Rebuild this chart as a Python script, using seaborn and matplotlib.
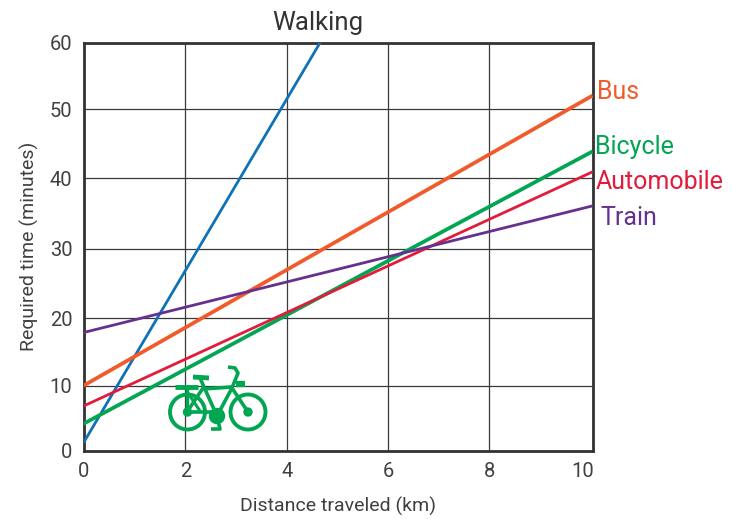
import matplotlib
matplotlib.use("Agg")
import matplotlib.pyplot as plt
import seaborn as sns
import pandas as pd
from matplotlib.patches import Circle
from matplotlib.transforms import Affine2D, ScaledTranslation

# values: required time at start and end of each line
modes = ["Walking", "Bus", "Bicycle", "Automobile", "Train"]
dist_walking = [0, 4.65]
time_walking = [1.2, 60]
dist_others = [0, 10]
time_bus = [9.6, 52.2]
time_bicycle = [4.0, 44]
time_automobile = [6.6, 41]
time_train = [17.4, 36]

# the printed grid is slightly uneven, so lines sit where the picture has them
xticks = [0, 2, 4, 5.99, 7.97, 10]
xlabels = ["0", "2", "4", "6", "8", "10"]
yticks = [0, 9.55, 19.5, 29.7, 40.05, 50.2, 60]
ylabels = ["0", "10", "20", "30", "40", "50", "60"]

colores = {"Walking": "#0F71B8", "Bus": "#F15A2B", "Bicycle": "#00A651",
           "Automobile": "#E31B3B", "Train": "#66308F"}
grosor = {"Walking": 2.0, "Bus": 2.7, "Bicycle": 2.7, "Automobile": 2.0, "Train": 2.0}

filas = []
for m, xs, ys in [("Walking", dist_walking, time_walking),
                  ("Bus", dist_others, time_bus),
                  ("Bicycle", dist_others, time_bicycle),
                  ("Automobile", dist_others, time_automobile),
                  ("Train", dist_others, time_train)]:
    for x, y in zip(xs, ys):
        filas.append({"mode": m, "dist": x, "time": y})
df = pd.DataFrame(filas)

sns.set_style("white")
plt.rcParams["font.family"] = ["Roboto", "DejaVu Sans"]

W, H = 732, 519
fig = plt.figure(figsize=(W / 100, H / 100), dpi=100)
ax = fig.add_axes([83.5 / W, 1 - 451 / H, 509 / W, 408.5 / H])

for m in modes:
    sns.lineplot(data=df[df["mode"] == m], x="dist", y="time", color=colores[m],
                 linewidth=grosor[m], ax=ax, legend=False, zorder=3,
                 solid_capstyle="butt")

ax.set_xlim(0, 10)
ax.set_ylim(0, 60)
ax.set_xticks(xticks, xlabels)
ax.set_yticks(yticks, ylabels)
ax.grid(True, color="#3a3a3a", linewidth=0.9)
ax.set_axisbelow(True)
ax.tick_params(length=0, labelsize=14.5, labelcolor="#404040")
ax.tick_params(axis="y", pad=8)
ax.tick_params(axis="x", pad=8)

# the last x label ends at the frame instead of centring on it
ultimo = ax.get_xticklabels()[-1]
ultimo.set_ha("right")
ultimo.set_transform(ultimo.get_transform() + ScaledTranslation(2 / 100, 0, fig.dpi_scale_trans))

for s in ax.spines.values():
    s.set_visible(True)
    s.set_color("#333333")
    s.set_linewidth(2)

ax.set_xlabel("Distance traveled (km)", fontsize=14, color="#404040", labelpad=11)
ax.set_ylabel("Required time (minutes)", fontsize=14, color="#404040", labelpad=8)

# labels sit outside the frame, placed in pixels of the figure
def etiqueta(px, py, texto, color, ha="left", size=18):
    fig.text(px / W, 1 - py / H, texto, color=color, fontsize=size, ha=ha, va="center")

etiqueta(318, 23, "Walking", "#333333", ha="center", size=18.5)
etiqueta(597, 92, "Bus", colores["Bus"])
etiqueta(595, 147, "Bicycle", colores["Bicycle"])
etiqueta(596, 182, "Automobile", colores["Automobile"])
etiqueta(600, 218, "Train", colores["Train"])

# bicycle icon, drawn in figure pixels (y down)
pix = Affine2D().scale(1, -1).translate(0, H)
verde = colores["Bicycle"]

def trazo(xs, ys, lw=2.6):
    fig.add_artist(plt.Line2D(xs, ys, color=verde, linewidth=lw, transform=pix,
                              solid_capstyle="butt", solid_joinstyle="round", zorder=5))

for cx, r in [(187.5, 17.5), (248, 17.5)]:
    fig.add_artist(Circle((cx, 412), r, fill=False, edgecolor=verde, linewidth=2.8,
                          transform=pix, zorder=5))
for cx, cy, r in [(187.5, 412, 4), (248, 412, 4), (217, 416, 7.5)]:
    fig.add_artist(Circle((cx, cy), r, color=verde, transform=pix, zorder=5))

trazo([187, 217], [412, 412])                                 # chain stay
trazo([187, 203], [412, 388])                                 # seat stay
trazo([203, 232], [389, 387])                                 # top tube
trazo([217, 232], [416, 388])                                 # down tube
trazo([200, 217], [378, 416])                                 # seat tube
trazo([193, 209], [377, 378], lw=3.5)                         # seat
trazo([175, 198], [387, 387], lw=3.5)                         # rack
trazo([187, 187], [387, 412], lw=2.5)
trazo([188, 200], [393, 411], lw=2.2)
trazo([248, 232], [412, 388])                                 # fork
trazo([228, 235, 238, 232], [367, 368, 373, 388])             # handlebar
trazo([236, 245], [384, 384], lw=4.5)                         # lamp
trazo([217, 220, 211], [416, 429, 429])                       # pedal

fig.savefig("out.png", dpi=100)
